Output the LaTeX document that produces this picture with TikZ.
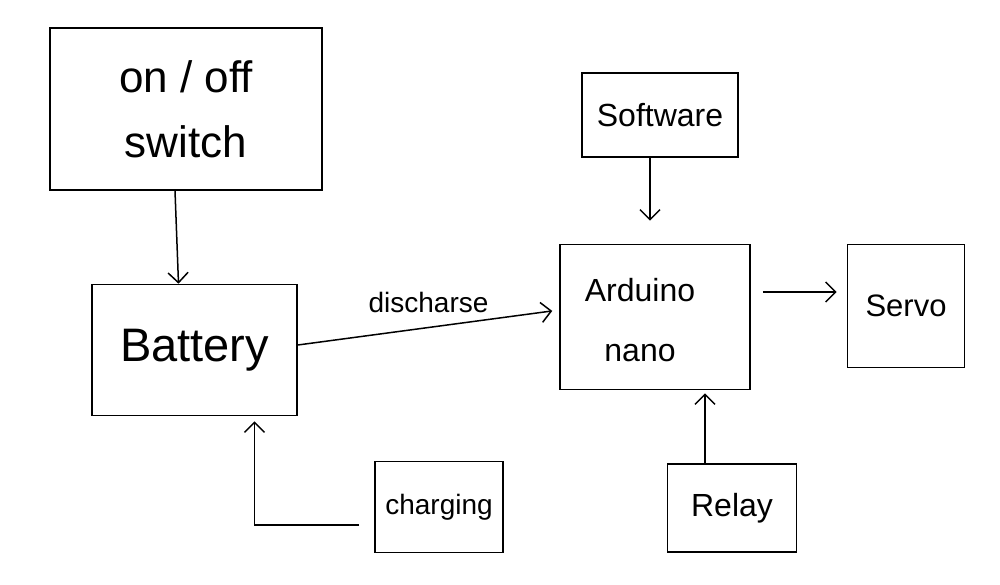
\documentclass[tikz,border=0pt]{standalone}
\usepackage{fontspec}
\setmainfont{Liberation Sans}
\usetikzlibrary{arrows.meta}
\tikzset{
  box/.style={draw, line width=1.6pt, rectangle, inner sep=0pt, align=center},
  conn/.style={draw, line width=1.5pt, -{Straight Barb[length=10pt,width=20pt,line width=1.5pt]}},
  lbl/.style={inner sep=0pt}
}
\newcommand{\fs}[1]{\fontsize{#1}{#1}\selectfont}
\begin{document}
\begin{tikzpicture}[x=1pt,y=-1pt]
\useasboundingbox (0,0) rectangle (1000,585);
% boxes
\node[box, minimum width=272pt, minimum height=162pt, font=\fontsize{44}{65}\selectfont] (sw) at (186,109) {on / off\\switch};
\node[box, minimum width=156pt, minimum height=84pt, font=\fs{32}] (soft) at (660,115) {Software};
\node[box, minimum width=205pt, minimum height=131pt, font=\fs{47}] (bat) at (194.5,350) {Battery};
\node[box, minimum width=190pt, minimum height=145pt] (ard) at (655,317) {};
\node[lbl, align=center, font=\fontsize{32}{60}\selectfont] (ardt) at (640,320) {Arduino\\nano};
\node[box, minimum width=117pt, minimum height=123pt, font=\fs{31}] (servo) at (906,306) {Servo};
\node[box, minimum width=128pt, minimum height=91pt, font=\fs{28}] (chg) at (439,507) {charging};
\node[box, minimum width=129pt, minimum height=88pt, font=\fs{32}] (relay) at (732,508) {Relay};
% connectors
\draw[conn] ([xshift=-11]sw.south) -- ([xshift=-16]bat.north);
\draw[conn, shorten >=23pt] ([xshift=-10]soft.south) -- ([xshift=-5]ard.north);
\draw[conn, shorten >=7pt] ([yshift=5]bat.east) -- node[lbl, above=14pt, pos=0.5, font=\fs{28}] (dis) {discharse} ([yshift=7]ard.west);
\draw[conn, shorten <=12pt, shorten >=10pt] ([yshift=25]ard.east) -- ([yshift=14]servo.west);
\draw[conn, shorten >=3pt] ([xshift=-27]relay.north) -- ([xshift=-27]relay.north |- ard.south);
\draw[conn, shorten <=15pt, shorten >=5pt] ([yshift=-18]chg.west) -| ([xshift=60]bat.south);
\end{tikzpicture}
\end{document}
